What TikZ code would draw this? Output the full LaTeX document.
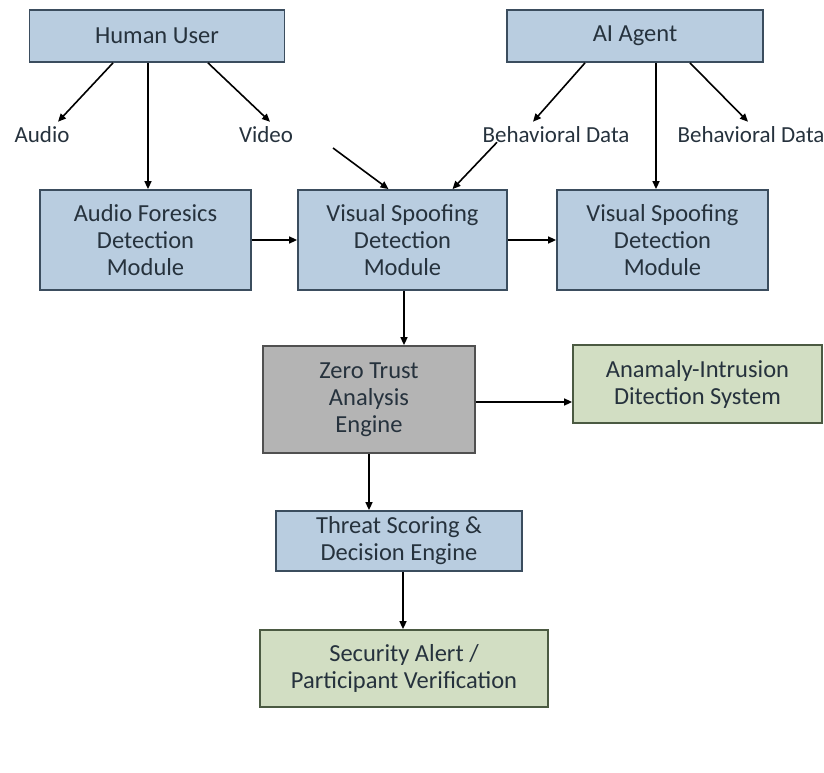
\documentclass[tikz,border=0pt]{standalone}
\usepackage{fontspec}
\setmainfont{Carlito}
\usetikzlibrary{positioning, calc, arrows.meta}

\definecolor{boxblue}{HTML}{B9CDE0}
\definecolor{edgeblue}{HTML}{3B4D5E}
\definecolor{boxgray}{HTML}{B4B4B4}
\definecolor{edgegray}{HTML}{505050}
\definecolor{boxgreen}{HTML}{D2DEC3}
\definecolor{edgegreen}{HTML}{4B5A42}
\definecolor{inktext}{HTML}{26323D}

\tikzset{
  blockbase/.style={draw, line width=1.8pt, align=center, text=inktext,
    font=\fontsize{24.5}{27}\selectfont, inner sep=0pt},
  bluebox/.style={blockbase, fill=boxblue, draw=edgeblue},
  graybox/.style={blockbase, fill=boxgray, draw=edgegray},
  greenbox/.style={blockbase, fill=boxgreen, draw=edgegreen},
  lbl/.style={text=inktext, font=\fontsize{23}{26}\selectfont, inner sep=1pt},
  flow/.style={line width=1.6pt, -{Triangle[length=8pt,width=7pt]}},
}

\begin{document}
\begin{tikzpicture}[x=1pt, y=-1pt]
            \useasboundingbox (0,0) rectangle (824,773);

            %上段
            \node[bluebox, minimum width=255pt, minimum height=52pt] (hu) at (157,36) {Human User};
            \node[bluebox, minimum width=256pt, minimum height=52pt] (ai) at (635,36) {AI Agent};

            %ラベル
            \node[lbl] (audio) at (42,135) {Audio};
            \node[lbl] (video) at (266,135) {Video};
            \node[lbl] (bdl) at (556,135) {Behavioral Data};
            \node[lbl] (bdr) at (751,135) {Behavioral Data};
            \coordinate (vidfeed) at (333,148);

            %モジュール
            \node[bluebox, minimum width=211pt, minimum height=100pt] (afd) at (145.5,240) {Audio Foresics\\Detection\\Module};
            \node[bluebox, minimum width=209pt, minimum height=100pt] (vsd) at (402.5,240) {Visual Spoofing\\Detection\\Module};
            \node[bluebox, minimum width=211pt, minimum height=100pt] (vsr) at (662.5,240) {Visual Spoofing\\Detection\\Module};

            \node[graybox, minimum width=212pt, minimum height=107pt] (zt) at (369,399.5) {Zero Trust\\Analysis\\Engine};
            \node[greenbox, minimum width=249pt, minimum height=78pt] (ids) at (697.5,384) {Anamaly-Intrusion\\Ditection System};

            \node[bluebox, minimum width=246pt, minimum height=60pt] (tsd) at (399,541) {Threat Scoring \&\\Decision Engine};
            \node[greenbox, minimum width=288pt, minimum height=77pt] (sec) at (404,668.5) {Security Alert /\\Participant Verification};

            %矢印
            \draw[flow] ([xshift=-44pt]hu.south) -- ([xshift=16pt,yshift=4pt]audio.north);
            \draw[flow] ([xshift=-9pt]hu.south) -- ([xshift=2.5pt]afd.north);
            \draw[flow] ([xshift=51pt]hu.south) -- ([xshift=4pt,yshift=4pt]video.north);
            \draw[flow] (vidfeed) -- ([xshift=-14pt]vsd.north);
            \draw[flow] ([xshift=-59pt,yshift=2pt]bdl.south) -- ([xshift=50pt]vsd.north);

            \draw[flow] ([xshift=-50pt]ai.south) -- ([xshift=-23pt,yshift=4pt]bdl.north);
            \draw[flow] ([xshift=21pt]ai.south) -- ([xshift=-6.5pt]vsr.north);
            \draw[flow] ([xshift=55pt]ai.south) -- ([xshift=-3pt,yshift=4pt]bdr.north);

            \draw[flow] (afd.east) -- (vsd.west);
            \draw[flow] (vsd.east) -- (vsr.west);
            \draw[flow] ([xshift=1.5pt]vsd.south) -- ([xshift=1.5pt]vsd.south |- zt.north);
            \draw[flow] ([yshift=-2.5pt]zt.east) -- ([yshift=-2.5pt]zt.east -| ids.west);
            \draw[flow] (zt.south) -- (zt.south |- tsd.north);
            \draw[flow] ([xshift=4pt]tsd.south) -- ([xshift=4pt]tsd.south |- sec.north);
        \end{tikzpicture}
\end{document}
